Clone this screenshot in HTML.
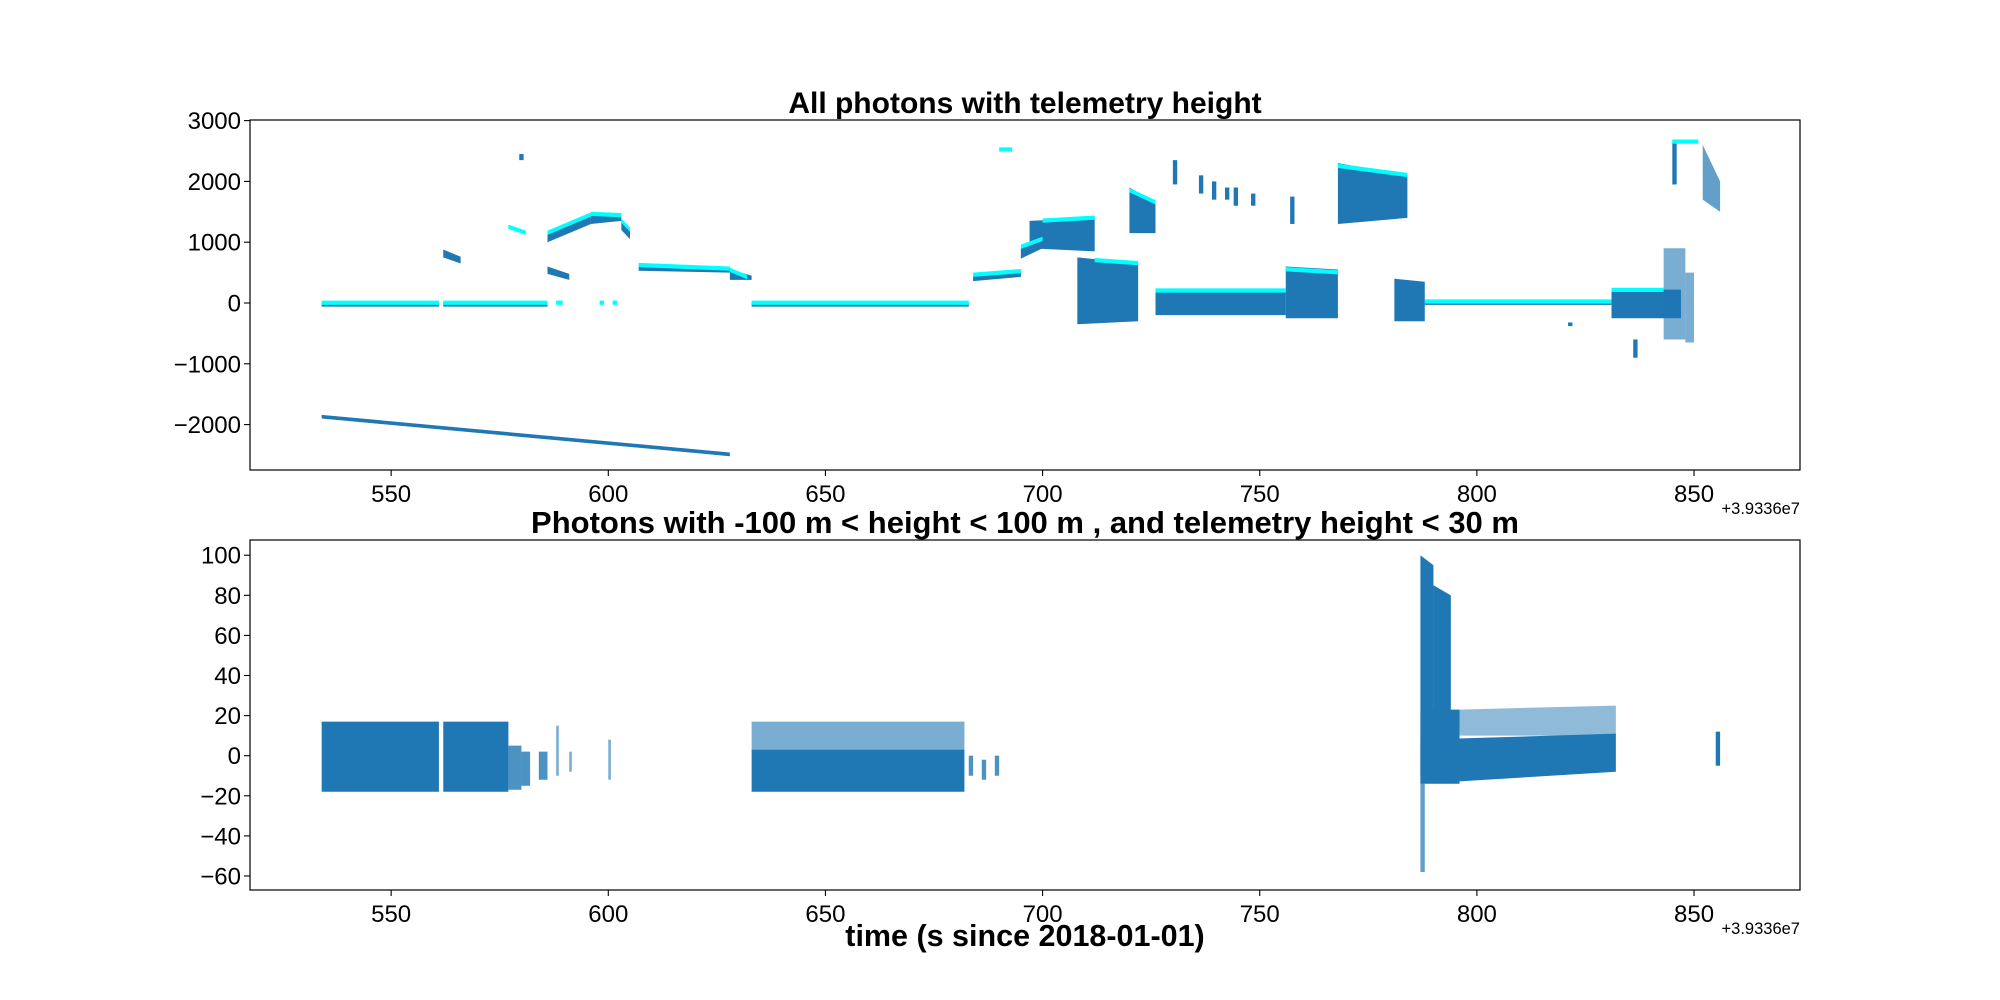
<!DOCTYPE html>
<html><head><meta charset="utf-8"><style>
body{margin:0;background:#fff}
svg{display:block;font-family:"Liberation Sans","DejaVu Sans",sans-serif}
</style></head><body>
<svg id="fig" width="2000" height="1000"></svg>
<script>
// ---- data: top panel (time, height) ----
const topT0 = [534,534,562,633,562,586,586,596,603,607,628,684,695,697,708,720,726,756,768,781,788,831,843,848,845,852,730,736,739,742,744,748,757,579.5,821,836];
const topT1 = [628,561,586,683,566,591,596,603,605,628,633,695,700,712,722,726,756,768,784,788,831,847,848,850,846,856,731,737,740,743,745,749,758,580.5,822,837];
const topLo0 = [-1900,-60,-60,-60,750,480,1000,1300,1200,530,380,360,730,900,-350,1150,-200,-250,1300,-300,-30,-250,-600,-650,1950,1700,1950,1800,1700,1700,1600,1600,1300,2350,-380,-900];
const topHi0 = [-1840,10,10,10,880,600,1150,1460,1350,620,550,460,900,1350,750,1900,200,600,2300,400,40,220,900,500,2650,2600,2350,2100,2000,1900,1900,1800,1750,2450,-320,-600];
const topLo1 = [-2520,-60,-60,-60,650,380,1300,1350,1050,500,380,430,900,850,-300,1150,-200,-250,1400,-300,-30,-250,-600,-650,1950,1500,1950,1800,1700,1700,1600,1600,1300,2350,-380,-900];
const topHi1 = [-2460,10,10,10,760,480,1450,1440,1200,580,450,520,1050,1400,650,1650,200,550,2100,350,40,220,900,500,2650,2000,2350,2100,2000,1900,1900,1800,1750,2450,-320,-600];
const topOp = [1,1,1,1,1,1,1,1,1,1,1,1,1,1,1,1,1,1,1,1,1,1,0.6,0.6,1,0.7,1,1,1,1,1,1,1,1,1,1];
const cyT0 = [534,562,633,586,596,603,607,628,577,700,712,720,726,756,768,788,831,684,695,690,845,588,598,601];
const cyT1 = [561,586,683,596,603,605,628,632,581,712,722,726,756,768,784,831,843,695,700,693,851,589.5,599,602];
const cyY0 = [0,0,0,1150,1460,1350,620,540,1250,1350,700,1850,200,550,2250,20,210,460,920,2520,2650,0,0,0];
const cyY1 = [0,0,0,1450,1440,1200,560,420,1150,1400,650,1650,200,500,2100,20,210,520,1050,2520,2650,0,0,0];
// ---- data: bottom panel ----
const botT0 = [534,562,577,580,584,588,591,600,633,633,683,686,689,787,787,790,787,796,855,787];
const botT1 = [561,577,580,582,586,588.6,591.6,600.6,682,682,684,687,690,790,796,794,832,832,856,788];
const botLo0 = [-18,-18,-17,-15,-12,-10,-8,-12,-18,3,-10,-12,-10,-10,-14,-10,-14,10,-5,-58];
const botHi0 = [17,17,5,2,2,15,2,8,3,17,0,-2,0,100,23,85,8,23,12,-14];
const botLo1 = [-18,-18,-17,-15,-12,-10,-8,-12,-18,3,-10,-12,-10,-10,-14,-10,-8,10,-5,-58];
const botHi1 = [17,17,5,2,2,15,2,8,3,17,0,-2,0,95,23,80,11,25,12,-14];
const botOp = [1,1,0.8,0.8,0.8,0.6,0.6,0.6,1,0.6,0.8,0.8,0.8,1,1,1,1,0.5,1,0.7];
const xTicks = [550,600,650,700,750,800,850];
const topYTicks = [3000,2000,1000,0,-1000,-2000];
const botYTicks = [100,80,60,40,20,0,-20,-40,-60];

const NS="http://www.w3.org/2000/svg";
const svg=document.getElementById('fig');
function el(tag,attrs,parent){const e=document.createElementNS(NS,tag);for(const k in attrs)e.setAttribute(k,attrs[k]);(parent||svg).appendChild(e);return e;}
const L=250,R=1800,XMIN=517.5,XMAX=874.4;
const xs=t=>L+(t-XMIN)/(XMAX-XMIN)*(R-L);
function mkY(top,bot,ymax,ymin){return v=>top+(ymax-v)/(ymax-ymin)*(bot-top);}
const yTop=mkY(120,470,3010,-2747);
const yBot=mkY(540,890,107.6,-67);
const fmt=v=>v<0?'\u2212'+Math.abs(v):String(v);

function axes(name){
  const g=el('g',{});
  
  
  return g;
}
function frame(top,bot,yfn,yticks,name){
  const f=el('rect',{x:L,y:top,width:R-L,height:bot-top,fill:'none',stroke:'#000','stroke-width':1.2});
  
  
  xTicks.forEach(t=>{
    const x=xs(t);
    el('line',{x1:x,x2:x,y1:bot,y2:bot+6,stroke:'#000','stroke-width':1.1});
    const tx=el('text',{x:x,y:bot+32,'font-size':24,'text-anchor':'middle'});
    tx.textContent=t;
    
    
  });
  yticks.forEach(v=>{
    const y=yfn(v);
    el('line',{x1:L-6,x2:L,y1:y,y2:y,stroke:'#000','stroke-width':1.1});
    const tx=el('text',{x:L-9,y:y+8.5,'font-size':24,'text-anchor':'end'});
    tx.textContent=fmt(v);
    
    
  });
  const off=el('text',{x:R,y:bot+44,'font-size':16.5,'text-anchor':'end'});
  off.textContent='+3.9336e7';
  
  
}
function band(g,t0,t1,lo0,hi0,lo1,hi1,yfn,color,op,minH){
  let x0=xs(t0),x1=xs(t1);if(x1-x0<2.5)x1=x0+2.5;
  let a=yfn(hi0),b=yfn(lo0),c=yfn(hi1),d=yfn(lo1);
  if(b-a<minH){const m=(a+b)/2;a=m-minH/2;b=m+minH/2;}
  if(d-c<minH){const m=(c+d)/2;c=m-minH/2;d=m+minH/2;}
  return el('polygon',{points:`${x0},${a} ${x1},${c} ${x1},${d} ${x0},${b}`,fill:color,'fill-opacity':op},g);
}
const gTop=axes('top');
for(let i=0;i<topT0.length;i++){
  const p=band(gTop,topT0[i],topT1[i],topLo0[i],topHi0[i],topLo1[i],topHi1[i],yTop,'#1f77b4',topOp[i],3);
  
  
}
for(let i=0;i<cyT0.length;i++){
  const p=band(gTop,cyT0[i],cyT1[i],cyY0[i]-30,cyY0[i]+40,cyY1[i]-30,cyY1[i]+40,yTop,'#00ffff',1,4);
  
  
}
frame(120,470,yTop,topYTicks,'top');
const gBot=axes('bottom');
for(let i=0;i<botT0.length;i++){
  const p=band(gBot,botT0[i],botT1[i],botLo0[i],botHi0[i],botLo1[i],botHi1[i],yBot,'#1f77b4',botOp[i],2);
  
  
}
frame(540,890,yBot,botYTicks,'bottom');
const t1=el('text',{x:1025,y:113,'font-size':30,'font-weight':'bold','text-anchor':'middle'});
t1.textContent='All photons with telemetry height';


const t2=el('text',{x:1025,y:533,'font-size':31,'font-weight':'bold','text-anchor':'middle'});
t2.textContent='Photons with -100 m < height < 100 m , and telemetry height < 30 m';


const xl=el('text',{x:1025,y:946,'font-size':30.5,'font-weight':'bold','text-anchor':'middle'});
xl.textContent='time (s since 2018-01-01)';


</script>
</body></html>
